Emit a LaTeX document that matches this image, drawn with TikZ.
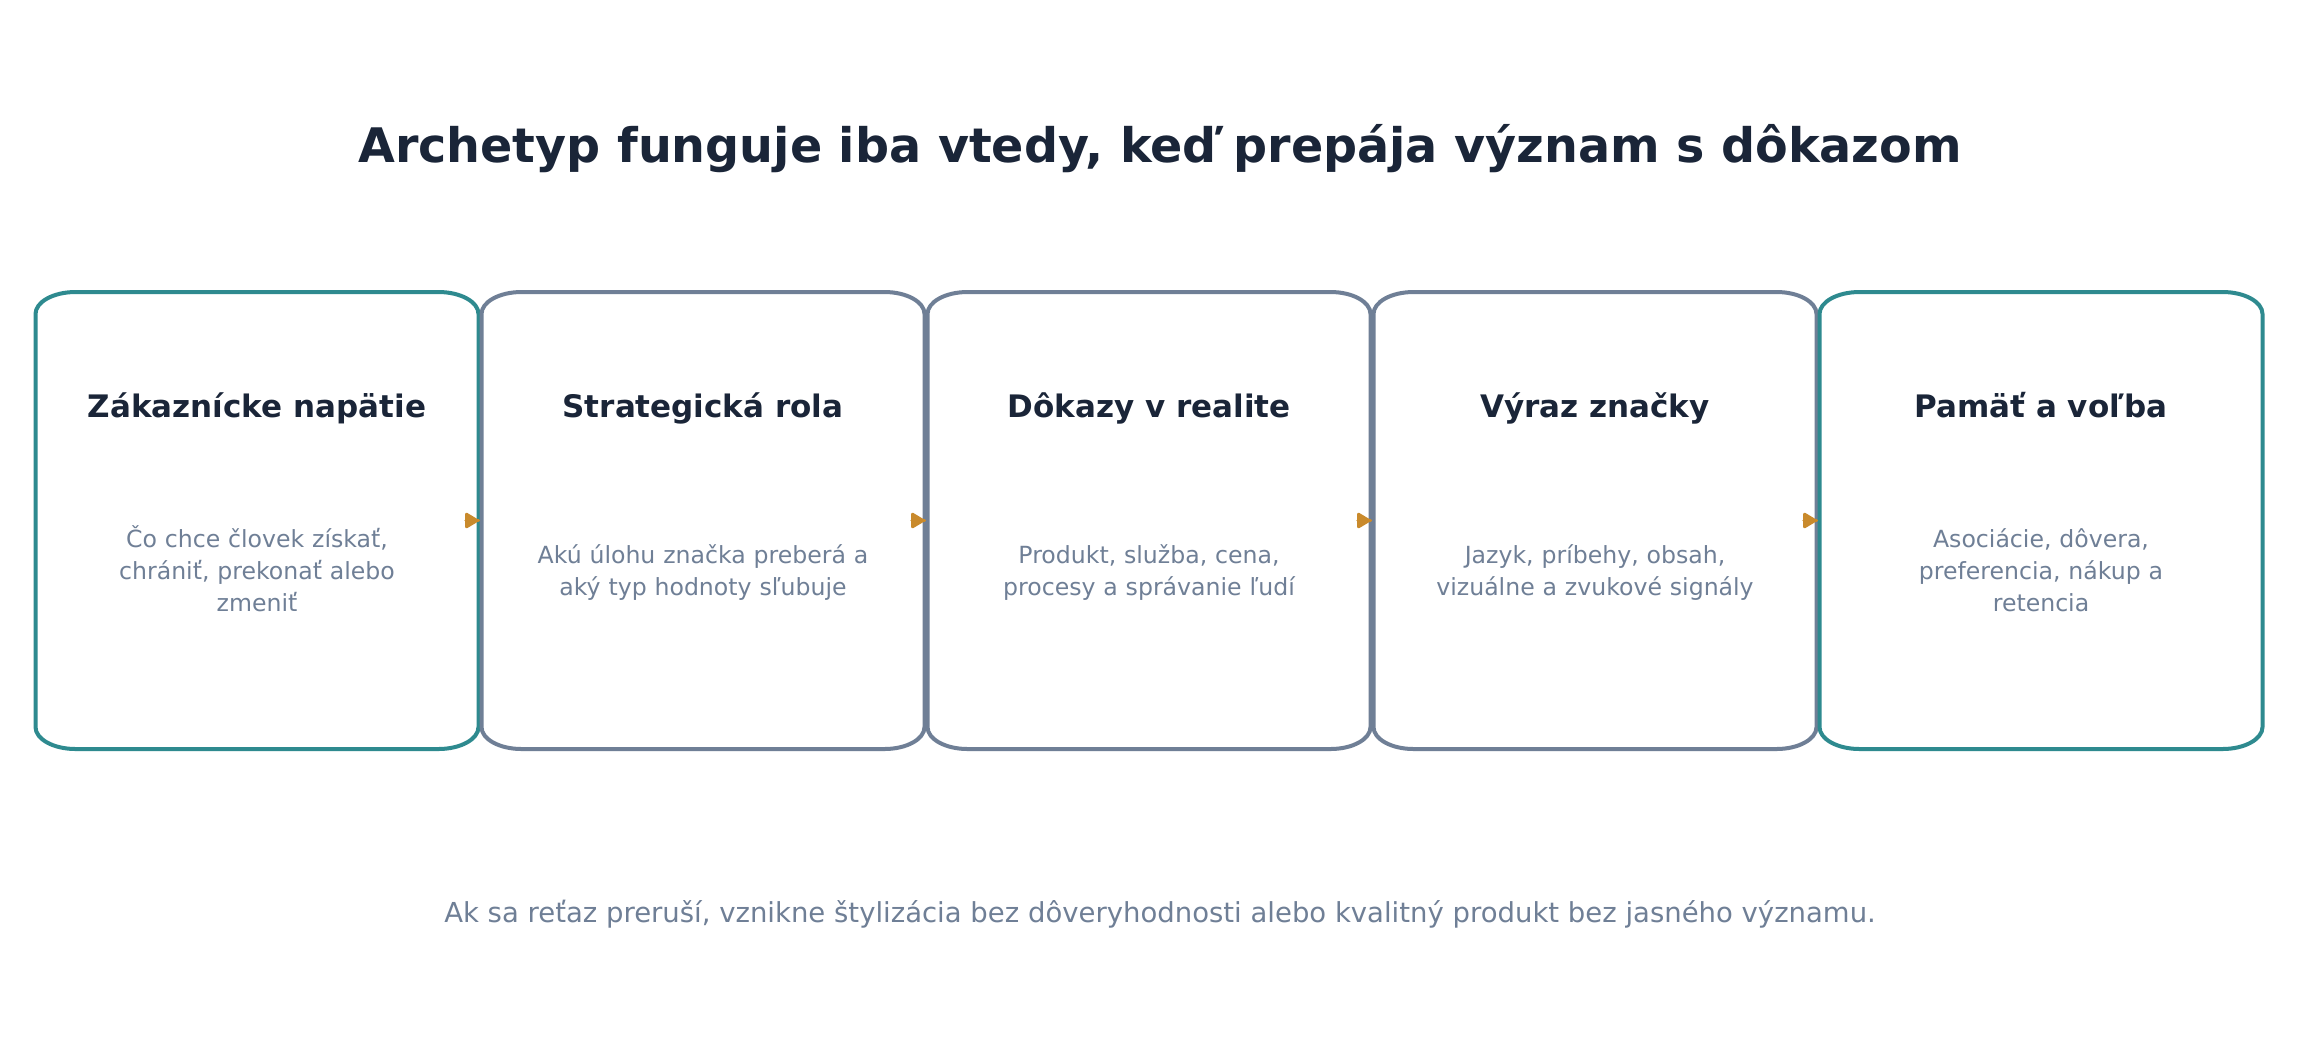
\documentclass[tikz,border=0pt]{standalone}
\usepackage{fontspec}
\setmainfont{DejaVu Sans}
\usetikzlibrary{arrows.meta}
\definecolor{teal}{HTML}{2E8A8F}
\definecolor{slate}{HTML}{6F7F96}
\definecolor{navy}{HTML}{1A2538}
\definecolor{amber}{HTML}{C98A2C}
\newcommand\drawcard[2]{%
  \draw[cardline,#2] ([xshift=20pt]#1.north west) -- ([xshift=-20pt]#1.north east)
    arc[start angle=90,end angle=0,x radius=20pt,y radius=11pt]
    -- ([yshift=11pt]#1.south east)
    arc[start angle=0,end angle=-90,x radius=20pt,y radius=11pt]
    -- ([xshift=20pt]#1.south west)
    arc[start angle=270,end angle=180,x radius=20pt,y radius=11pt]
    -- ([yshift=-11pt]#1.north west)
    arc[start angle=180,end angle=90,x radius=20pt,y radius=11pt]
    -- cycle;}
\tikzset{
  card/.style={rectangle,minimum width=221.5pt,minimum height=228.5pt,inner sep=0pt,outer sep=0pt},
  cardline/.style={line width=2pt,line join=round},
  cardtitle/.style={anchor=base,inner sep=0pt,text=navy,font=\fontsize{15.5pt}{18pt}\selectfont\bfseries},
  cardbody/.style={anchor=base,inner sep=0pt,text=slate,text width=200pt,align=center,font=\fontsize{11.8pt}{16pt}\selectfont},
  conn/.style={draw=amber,fill=amber,line width=1.5pt,line cap=round,-{Triangle[length=7.5pt,width=8.5pt,round]},shorten >=1.5pt},
}
\begin{document}
\begin{tikzpicture}[x=0.5pt,y=-0.5pt]
\path[use as bounding box,fill=white] (0,0) rectangle (2321,1062);
\node[anchor=base,inner sep=0pt,text=navy,font=\fontsize{23.8pt}{28pt}\selectfont\bfseries] (title) at (1160,162) {Archetyp funguje iba vtedy, keď prepája význam s dôkazom};
\node[card] (b1) at (257,520.5) {};
\node[card] (b2) at (703,520.5) {};
\node[card] (b3) at (1149,520.5) {};
\node[card] (b4) at (1595,520.5) {};
\node[card] (b5) at (2041,520.5) {};
\drawcard{b1}{draw=teal}
\drawcard{b2}{draw=slate}
\drawcard{b3}{draw=slate}
\drawcard{b4}{draw=slate}
\drawcard{b5}{draw=teal}
\node[cardtitle] (t1) at (257,417) {Zákaznícke napätie};
\node[cardtitle] (t2) at (703,417) {Strategická rola};
\node[cardtitle] (t3) at (1149,417) {Dôkazy v realite};
\node[cardtitle] (t4) at (1595,417) {Výraz značky};
\node[cardtitle] (t5) at (2041,417) {Pamäť a voľba};
\node[cardbody] (d1) at (257,547) {Čo chce človek získať,\\ chrániť, prekonať alebo\\ zmeniť};
\node[cardbody] (d2) at (703,563) {Akú úlohu značka preberá a\\ aký typ hodnoty sľubuje};
\node[cardbody] (d3) at (1149,563) {Produkt, služba, cena,\\ procesy a správanie ľudí};
\node[cardbody] (d4) at (1595,563) {Jazyk, príbehy, obsah,\\ vizuálne a zvukové signály};
\node[cardbody] (d5) at (2041,547) {Asociácie, dôvera,\\ preferencia, nákup a\\ retencia};
\draw[conn] (b1.east) -- (b2.west);
\draw[conn] (b2.east) -- (b3.west);
\draw[conn] (b3.east) -- (b4.west);
\draw[conn] (b4.east) -- (b5.west);
\node[anchor=base,inner sep=0pt,text=slate,font=\fontsize{13.75pt}{17pt}\selectfont] (note) at (1160,922) {Ak sa reťaz preruší, vznikne štylizácia bez dôveryhodnosti alebo kvalitný produkt bez jasného významu.};
\end{tikzpicture}
\end{document}
